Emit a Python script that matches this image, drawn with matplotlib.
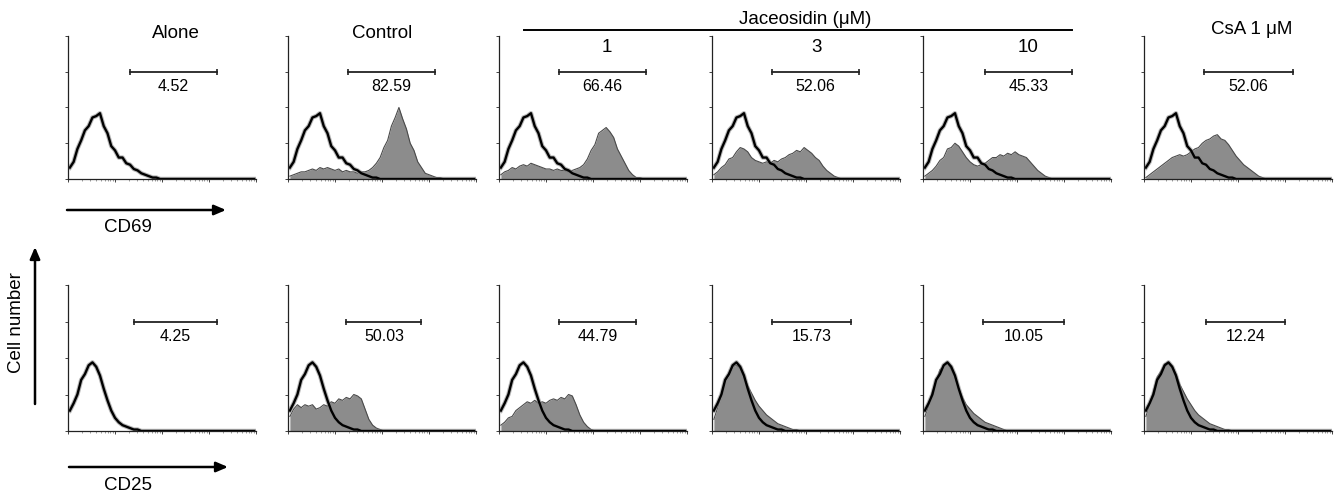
import numpy as np
import matplotlib
matplotlib.use("Agg")
import matplotlib.pyplot as plt
from matplotlib.patches import FancyArrowPatch

plt.rcParams['font.family'] = ['Liberation Sans', 'DejaVu Sans']

# ---------------- data ----------------
# histogram heights (% of axis height) at bin centres spaced 0.08 decades (4-decade log axis)
open_cd69 = [8, 12, 21, 27, 34, 37, 43, 44, 46, 37, 32, 23, 20, 15, 15, 11, 10, 7, 6, 4, 3, 2, 1, 1]
open_cd25 = [14, 19, 25, 35, 39, 45, 47, 44, 38, 29, 21, 14, 9, 6, 4, 3, 2, 1, 1]

ctrl_cd69 = [2, 3, 4, 5, 5, 6, 7, 6, 8, 7, 8, 7, 6, 7, 5, 6, 5, 5, 4, 5, 5, 6, 8, 11, 15, 22, 27, 37,
             43, 50, 42, 35, 25, 20, 12, 8, 4, 3, 2, 1, 1]
jac1_cd69 = [3, 5, 6, 8, 7, 9, 10, 9, 11, 10, 9, 8, 7, 7, 6, 7, 6, 6, 5, 6, 7, 8, 10, 14, 20, 24, 32,
             34, 36, 33, 29, 21, 16, 11, 6, 3, 1, 1]
jac3_cd69 = [3, 5, 8, 10, 14, 15, 19, 22, 21, 19, 15, 13, 12, 11, 12, 11, 13, 12, 14, 15, 17, 18, 20,
             19, 22, 20, 18, 15, 13, 9, 6, 4, 2, 1]
jac10_cd69 = [2, 4, 6, 9, 13, 15, 21, 22, 25, 23, 19, 15, 12, 10, 9, 10, 11, 13, 15, 15, 17, 16, 18,
              17, 19, 17, 16, 15, 12, 9, 6, 4, 2, 1]
csa_cd69 = [1, 3, 5, 7, 9, 11, 13, 15, 16, 17, 16, 17, 19, 21, 22, 25, 27, 28, 30, 31, 28, 27, 24, 20,
            16, 13, 10, 8, 6, 4, 2, 1]

ctrl_cd25 = [10, 15, 18, 16, 18, 17, 18, 15, 16, 18, 17, 20, 19, 22, 21, 23, 22, 25, 24, 22, 15, 8, 4, 2, 1]
jac1_cd25 = [4, 6, 9, 10, 14, 16, 18, 20, 19, 21, 19, 20, 19, 21, 22, 21, 23, 22, 25, 24, 18, 11, 6, 3, 1]
jac3_cd25 = [8, 16, 24, 34, 38, 44, 45, 43, 37, 31, 26, 21, 17, 14, 11, 9, 7, 5, 4, 3, 2, 1, 1]
jac10_cd25 = [10, 17, 27, 34, 42, 44, 47, 42, 37, 29, 23, 18, 15, 12, 10, 8, 6, 5, 4, 3, 2, 1]
csa_cd25 = [10, 18, 27, 37, 41, 46, 46, 44, 39, 32, 27, 22, 18, 14, 11, 9, 7, 5, 4, 3, 2, 1, 1]

filled_cd69 = [None, ctrl_cd69, jac1_cd69, jac3_cd69, jac10_cd69, csa_cd69]
filled_cd25 = [None, ctrl_cd25, jac1_cd25, jac3_cd25, jac10_cd25, csa_cd25]

# marker gates (decades) and percentages
gates_cd69 = [(1.32, 3.16), (1.28, 3.12), (1.28, 3.12), (1.28, 3.12), (1.32, 3.16), (1.28, 3.16)]
gates_cd25 = [(1.40, 3.16), (1.24, 2.84), (1.28, 2.92), (1.28, 2.96), (1.28, 3.00), (1.32, 3.00)]
pct_cd69 = ["4.52", "82.59", "66.46", "52.06", "45.33", "52.06"]
pct_cd25 = ["4.25", "50.03", "44.79", "15.73", "10.05", "12.24"]

N = 50
xc = 0.04 + 0.08 * np.arange(N)


def pad(v):
    a = np.zeros(N)
    a[:len(v)] = v
    return a


# ---------------- figure ----------------
W, H = 1336, 496
fig = plt.figure(figsize=(W / 100, H / 100), dpi=100)

lefts = [68, 288, 499, 712, 923, 1144]
pw = 188
rows = [(36, 179, open_cd69, filled_cd69, gates_cd69, pct_cd69),
        (285, 431, open_cd25, filled_cd25, gates_cd25, pct_cd25)]

major = [0, 1, 2, 3, 4]
minor = [d + np.log10(k) for d in range(4) for k in range(2, 10)]

for top, bot, op, fills, gates, pcts in rows:
    for i, L in enumerate(lefts):
        ax = fig.add_axes([L / W, (H - bot) / H, pw / W, (bot - top) / H])
        ax.set_xlim(0, 4)
        ax.set_ylim(0, 100)
        for s in ['top', 'right']:
            ax.spines[s].set_visible(False)
        for s in ['left', 'bottom']:
            ax.spines[s].set_linewidth(0.9)
            ax.spines[s].set_color('#222222')
        ax.set_xticks(major)
        ax.set_xticks(minor, minor=True)
        ax.set_yticks([0, 25, 50, 75, 100])
        ax.tick_params(which='major', direction='out', length=2.5, width=0.7, color='#444444',
                       labelbottom=False, labelleft=False)
        ax.tick_params(which='minor', direction='out', length=1.5, width=0.5, color='#777777')
        ax.tick_params(axis='y', which='minor', left=False)
        f = fills[i]
        if f is not None:
            fy = pad(f)
            ax.fill_between(xc, fy, color='#8c8c8c', lw=0)
            ax.plot(xc, fy, color='#4a4a4a', lw=0.8)
        oy = pad(op)
        ax.plot(xc, oy, color='#888888', lw=3.2, alpha=0.6)
        ax.plot(xc, oy, color='black', lw=1.7)
        g0, g1 = gates[i]
        ax.plot([g0, g1], [75, 75], color='#222222', lw=1.3)
        ax.plot([g0, g1], [75, 75], ls='none', marker='|', ms=4, mew=1.2, color='#222222')
        ax.text((g0 + g1) / 2, 65, pcts[i], ha='center', va='center', fontsize=11.5)


def ft(x, y, s, **kw):
    fig.text(x / W, 1 - y / H, s, ha='center', va='center', **kw)


ft(176, 33, "Alone", fontsize=13.5)
ft(382, 33, "Control", fontsize=13.5)
ft(805, 19, "Jaceosidin (\u03bcM)", fontsize=13.5)
ft(607, 47, "1", fontsize=13.5)
ft(817, 47, "3", fontsize=13.5)
ft(1028, 48, "10", fontsize=13.5)
ft(1252, 30, "CsA 1 \u03bcM", fontsize=13.5)
ft(128, 227, "CD69", fontsize=13.5)
ft(128, 485, "CD25", fontsize=13.5)
ft(17, 323, "Cell number", fontsize=13.5, rotation=90)

# Jaceosidin bracket line
fig.add_artist(plt.Line2D([524 / W, 1072 / W], [1 - 30 / H, 1 - 30 / H], color='black', lw=1.4))

# axis arrows
arrow = dict(arrowstyle='-|>,head_length=0.7,head_width=0.3', color='black', lw=1.8,
             mutation_scale=10, shrinkA=0, shrinkB=0, transform=fig.transFigure)
fig.add_artist(FancyArrowPatch((67 / W, 1 - 210 / H), (226 / W, 1 - 210 / H), **arrow))
fig.add_artist(FancyArrowPatch((69 / W, 1 - 467 / H), (228 / W, 1 - 467 / H), **arrow))
fig.add_artist(FancyArrowPatch((35 / W, 1 - 404 / H), (35 / W, 1 - 247 / H), **arrow))

fig.savefig("out.png", dpi=100)
